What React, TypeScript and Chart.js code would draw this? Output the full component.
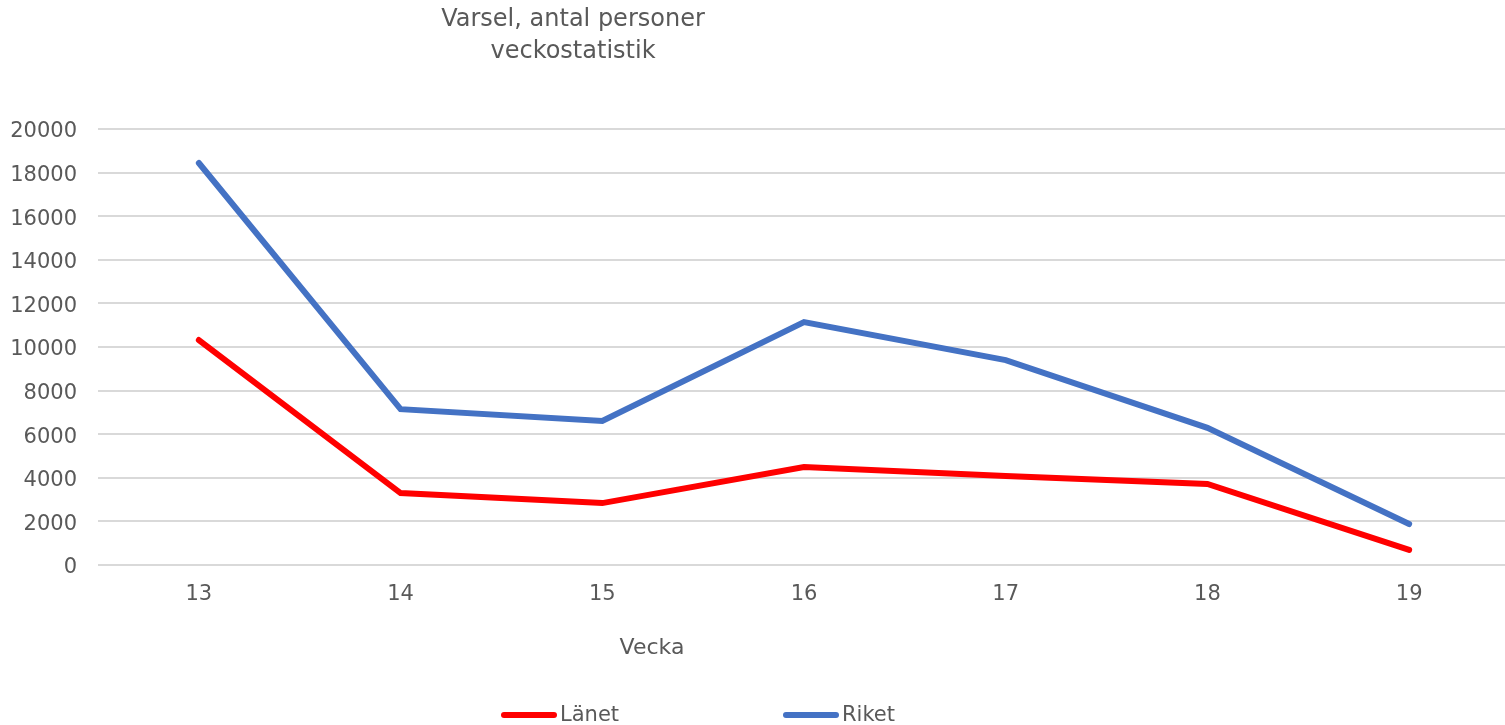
import React, { useEffect, useRef } from "react";
import { Chart, registerables } from "chart.js";

Chart.register(...registerables);

const weeks = ["13", "14", "15", "16", "17", "18", "19"];
const lanet = [10320, 3300, 2840, 4490, 4080, 3720, 690];
const riket = [18440, 7150, 6610, 11140, 9400, 6290, 1880];
const yTicks = [0, 2000, 4000, 6000, 8000, 10000, 12000, 14000, 16000, 18000, 20000];
const titleLines = ["Varsel, antal personer", "veckostatistik"];
const xTitle = "Vecka";
const seriesNames = ["Länet", "Riket"];
const seriesColors = ["#FF0000", "#4472C4"];

const FONT = "DejaVu Sans, Verdana, sans-serif";
const TEXT = "#595959";

const overlay = {
  id: "overlay",
  afterDraw(chart: any) {
    const ctx = chart.ctx;
    ctx.save();
    ctx.fillStyle = TEXT;
    ctx.textBaseline = "middle";
    ctx.textAlign = "center";
    ctx.font = `24px ${FONT}`;
    ctx.fillText(titleLines[0], 573, 20);
    ctx.fillText(titleLines[1], 573, 52);
    ctx.font = `22px ${FONT}`;
    ctx.fillText(xTitle, 652, 648);
    // legend
    const items = [
      { x: 501, name: seriesNames[0], color: seriesColors[0] },
      { x: 783, name: seriesNames[1], color: seriesColors[1] },
    ];
    ctx.font = `21px ${FONT}`;
    ctx.textAlign = "left";
    items.forEach((it) => {
      ctx.strokeStyle = it.color;
      ctx.lineWidth = 6;
      ctx.lineCap = "round";
      ctx.beginPath();
      ctx.moveTo(it.x + 3, 715);
      ctx.lineTo(it.x + 53, 715);
      ctx.stroke();
      ctx.fillText(it.name, it.x + 59, 716);
    });
    ctx.restore();
  },
};

export default function App() {
  const ref = useRef<HTMLCanvasElement>(null);
  useEffect(() => {
    document.body.style.margin = "0";
    document.body.style.overflow = "hidden";
    const chart = new Chart(ref.current!, {
      type: "line",
      data: {
        labels: weeks,
        datasets: [
          {
            label: seriesNames[0],
            data: lanet,
            borderColor: seriesColors[0],
            backgroundColor: seriesColors[0],
            borderWidth: 6,
            pointRadius: 0,
            borderCapStyle: "round",
            tension: 0,
          },
          {
            label: seriesNames[1],
            data: riket,
            borderColor: seriesColors[1],
            backgroundColor: seriesColors[1],
            borderWidth: 6,
            pointRadius: 0,
            borderCapStyle: "round",
            tension: 0,
          },
        ],
      },
      options: {
        animation: false,
        responsive: false,
        maintainAspectRatio: false,
        layout: { padding: { top: 129, right: 0, left: 0, bottom: 0 } },
        plugins: {
          legend: { display: false },
          title: { display: false },
          tooltip: { enabled: false },
        },
        scales: {
          x: {
            offset: true,
            grid: { display: false, drawTicks: false },
            border: { display: false },
            ticks: { color: TEXT, font: { family: FONT, size: 21 }, padding: 17 },
            afterFit(scale: any) {
              scale.height = 160;
            },
          },
          y: {
            min: 0,
            max: 20000,
            afterBuildTicks(scale: any) {
              scale.ticks = yTicks.map((v) => ({ value: v }));
            },
            grid: { color: "#D9D9D9", lineWidth: 2, drawTicks: false },
            border: { display: false },
            ticks: {
              color: TEXT,
              font: { family: FONT, size: 21 },
              padding: 21,
              labelOffset: 3,
              callback: (v: any) => String(v),
            },
            afterFit(scale: any) {
              scale.width = 98;
            },
          },
        },
      },
      plugins: [overlay],
    });
    return () => chart.destroy();
  }, []);
  return (
    <div style={{ position: "absolute", left: 0, top: 0, width: 1510, height: 725 }}>
      <canvas ref={ref} width={1510} height={725} style={{ width: 1510, height: 725, display: "block" }} />
    </div>
  );
}
